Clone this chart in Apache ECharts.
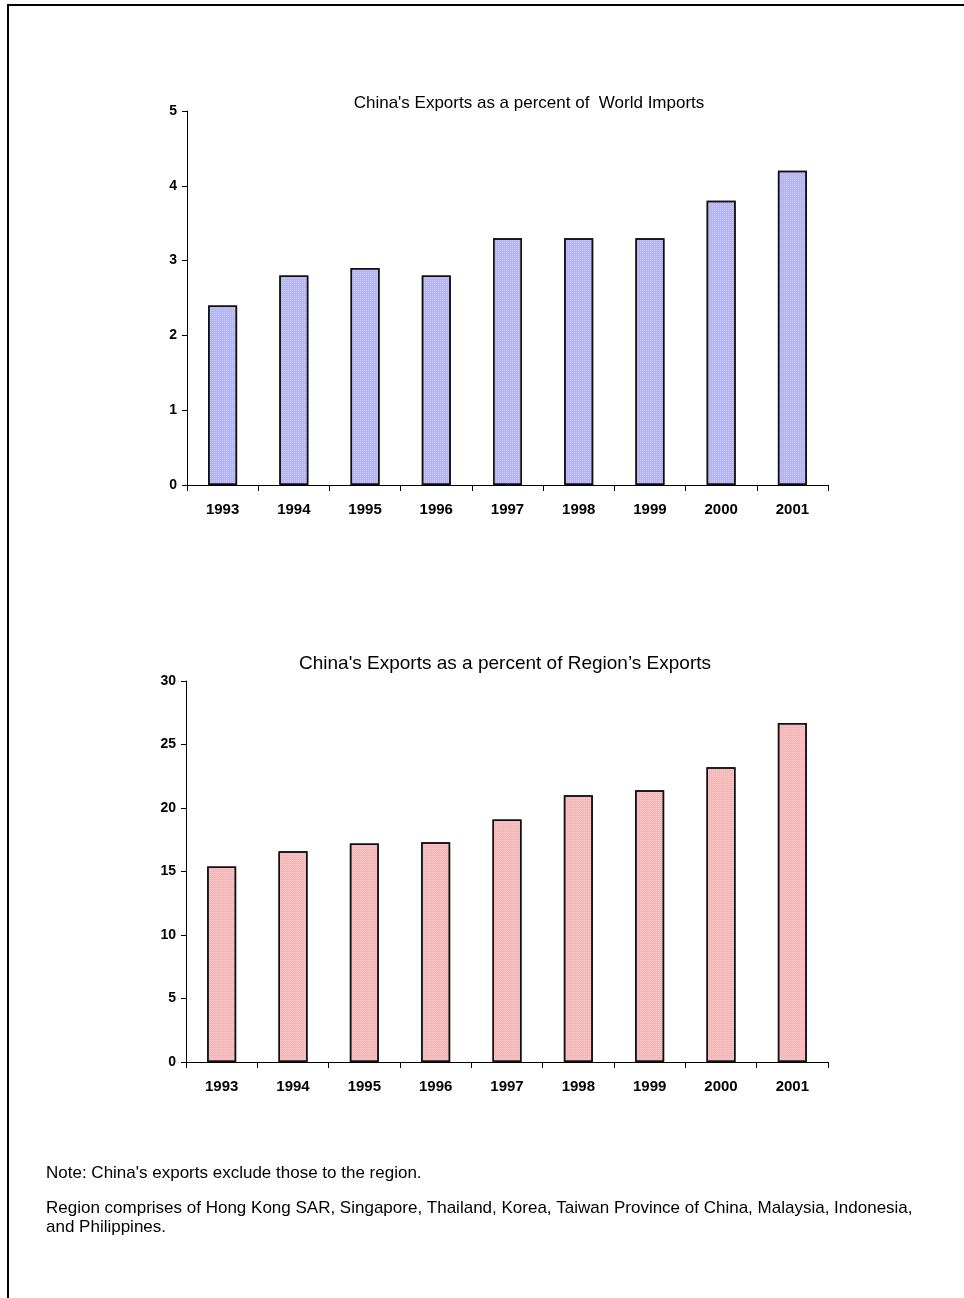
<!DOCTYPE html>
<html>
<head>
<meta charset="utf-8">
<script src="https://cdn.jsdelivr.net/npm/echarts@6/dist/echarts.min.js"></script>
<style>
  html, body { margin: 0; padding: 0; background: #fff; }
  #chart { width: 964px; height: 1298px; }
</style>
</head>
<body>
<div id="chart"></div>
<script>
// Years shown on both charts
const years = ["1993", "1994", "1995", "1996", "1997", "1998", "1999", "2000", "2001"]

// China's exports as % of world imports
const worldShare = [2.4, 2.8, 2.9, 2.8, 3.3, 3.3, 3.3, 3.8, 4.2]
// China's exports as % of region's exports
const regionShare = [15.4, 16.6, 17.2, 17.3, 19.1, 21.0, 21.4, 23.2, 26.7]

const titles = [
  "China's Exports as a percent of  World Imports",
  "China's Exports as a percent of Region\u2019s Exports",
]
const notes = [
  "Note: China's exports exclude those to the region.",
  "Region comprises of Hong Kong SAR, Singapore, Thailand, Korea, Taiwan Province of China, Malaysia, Indonesia,\nand Philippines.",
]

const font = "Arial, 'Liberation Sans', sans-serif"

const chart = echarts.init(document.getElementById("chart"), null, { renderer: "canvas" })

const xAxisBase = (gridIndex) => ({
  type: "category",
  gridIndex,
  data: years,
  axisLine: { lineStyle: { color: "#000", width: 1 } },
  axisTick: { show: true, length: 6, lineStyle: { color: "#000" } },
  axisLabel: { color: "#000", fontFamily: font, fontWeight: "bold", fontSize: 15, margin: 17 },
  splitLine: { show: false },
})

const yAxisBase = (gridIndex, max, interval) => ({
  type: "value",
  gridIndex,
  min: 0,
  max,
  interval,
  axisLine: { show: true, lineStyle: { color: "#000", width: 1 } },
  axisTick: { show: true, length: 5, lineStyle: { color: "#000" } },
  axisLabel: { color: "#000", fontFamily: font, fontWeight: "bold", fontSize: 14, margin: 10 },
  splitLine: { show: false },
})

const barSeries = (idx, data, color) => ({
  type: "bar",
  xAxisIndex: idx,
  yAxisIndex: idx,
  data,
  barWidth: 29,
  itemStyle: {
    color,
    borderColor: "#111",
    borderWidth: 1.5,
    decal: {
      symbol: "rect",
      symbolSize: 1,
      dashArrayX: [1, 1],
      dashArrayY: [1, 1],
      color: "rgba(255,255,255,0.25)",
    },
  },
  silent: true,
})

chart.setOption({
  backgroundColor: "#fff",
  animation: false,
  title: [
    {
      text: titles[0],
      left: 524, top: 90, textAlign: "center",
      textStyle: { color: "#000", fontFamily: font, fontWeight: "normal", fontSize: 17 },
    },
    {
      text: titles[1],
      left: 500, top: 649, textAlign: "center",
      textStyle: { color: "#000", fontFamily: font, fontWeight: "normal", fontSize: 19 },
    },
  ],
  grid: [
    { left: 187, top: 111, width: 641, height: 374 },
    { left: 186, top: 681, width: 642, height: 381 },
  ],
  xAxis: [xAxisBase(0), xAxisBase(1)],
  yAxis: [yAxisBase(0, 5, 1), yAxisBase(1, 30, 5)],
  series: [
    barSeries(0, worldShare, "#b4b4fc"),
    barSeries(1, regionShare, "#ffb4b4"),
  ],
  graphic: [
    // page frame (top and left edges)
    {
      type: "polyline",
      shape: { points: [[8, 1298], [8, 5], [964, 5]] },
      style: { stroke: "#000", lineWidth: 2, fill: null },
    },
    {
      type: "text",
      left: 46, top: 1165,
      style: { text: notes[0], font: `17px ${font}`, fill: "#000" },
    },
    {
      type: "text",
      left: 46, top: 1199,
      style: { text: notes[1], font: `17px ${font}`, fill: "#000", lineHeight: 19 },
    },
  ],
})
</script>
</body>
</html>
